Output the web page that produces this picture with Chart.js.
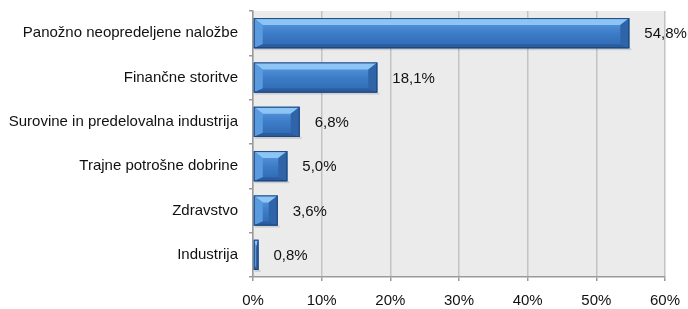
<!DOCTYPE html>
<html lang="sl">
<head>
<meta charset="UTF-8">
<title>Naložbe po panogah</title>
<script src="https://cdn.jsdelivr.net/npm/chart.js"></script>
<style>
  html, body { margin: 0; padding: 0; background: #fff; overflow: hidden; }
  #wrap { width: 688px; height: 309px; }
</style>
</head>
<body>
<div id="wrap"><canvas id="sectorChart"></canvas></div>
<script>
  // podatki
  const categories = [
    "Panožno neopredeljene naložbe",
    "Finančne storitve",
    "Surovine in predelovalna industrija",
    "Trajne potrošne dobrine",
    "Zdravstvo",
    "Industrija"
  ];
  const shares = [54.8, 18.1, 6.8, 5.0, 3.6, 0.8];
  const xTicks = [0, 10, 20, 30, 40, 50, 60];

  const fmt = v => v.toFixed(1).replace(".", ",") + "%";
  const FONT = "'Liberation Sans', Arial, sans-serif";

  // sivo ozadje risalne površine
  const plotBg = {
    id: "plotBg",
    beforeDraw(chart) {
      const a = chart.chartArea;
      const ctx = chart.ctx;
      ctx.save();
      ctx.fillStyle = "#ebebeb";
      ctx.fillRect(a.left, a.top, a.right - a.left, a.bottom - a.top);
      ctx.restore();
    }
  };

  // 3D videz stolpcev + oznake vrednosti
  const bevel = {
    id: "bevel",
    afterDatasetsDraw(chart) {
      const ctx = chart.ctx;
      const meta = chart.getDatasetMeta(0);
      ctx.save();
      meta.data.forEach((bar, i) => {
        const x0 = bar.base, x1 = bar.x;
        const y0 = bar.y - bar.height / 2, y1 = bar.y + bar.height / 2;
        const b = Math.min(9, (x1 - x0) / 2);
        const bt = 7, bb = 4;

        // senca
        ctx.fillStyle = "rgba(0,0,0,0.12)";
        ctx.fillRect(x0 + 1, y1, x1 - x0 + 1, 2);

        // ploskev
        const g = ctx.createLinearGradient(0, y0, 0, y1);
        g.addColorStop(0, "#5f9fe2");
        g.addColorStop(0.5, "#3d7cc7");
        g.addColorStop(1, "#2f69b2");
        ctx.fillStyle = g;
        ctx.fillRect(x0, y0, x1 - x0, y1 - y0);

        // zgornji svetel rob
        ctx.fillStyle = "#8cc5f5";
        ctx.beginPath();
        ctx.moveTo(x0, y0); ctx.lineTo(x1, y0); ctx.lineTo(x1 - b, y0 + bt); ctx.lineTo(x0 + b, y0 + bt);
        ctx.closePath(); ctx.fill();
        // levi rob
        ctx.fillStyle = "#5a9ade";
        ctx.beginPath();
        ctx.moveTo(x0, y0); ctx.lineTo(x0 + b, y0 + bt); ctx.lineTo(x0 + b, y1 - bb); ctx.lineTo(x0, y1);
        ctx.closePath(); ctx.fill();
        // spodnji temen rob
        ctx.fillStyle = "#2a5c9e";
        ctx.beginPath();
        ctx.moveTo(x0, y1); ctx.lineTo(x1, y1); ctx.lineTo(x1 - b, y1 - bb); ctx.lineTo(x0 + b, y1 - bb);
        ctx.closePath(); ctx.fill();
        // desni rob
        ctx.fillStyle = "#2f64a8";
        ctx.beginPath();
        ctx.moveTo(x1, y0); ctx.lineTo(x1, y1); ctx.lineTo(x1 - b, y1 - bb); ctx.lineTo(x1 - b, y0 + bt);
        ctx.closePath(); ctx.fill();
        // obroba
        ctx.strokeStyle = "#1f4477";
        ctx.lineWidth = 1;
        ctx.strokeRect(x0 + 0.5, y0 + 0.5, x1 - x0 - 1, y1 - y0 - 1);

        // oznaka
        ctx.fillStyle = "#111";
        ctx.font = "15px " + FONT;
        ctx.textAlign = "left";
        ctx.textBaseline = "middle";
        ctx.fillText(fmt(shares[i]), x1 + 15, bar.y + 1);
      });
      ctx.restore();
    }
  };

  const ctx = document.getElementById("sectorChart").getContext("2d");
  new Chart(ctx, {
    type: "bar",
    data: {
      labels: categories,
      datasets: [{
        data: shares,
        backgroundColor: "#3b7cc9",
        borderWidth: 0,
        categoryPercentage: 1,
        barPercentage: 0.68
      }]
    },
    options: {
      indexAxis: "y",
      responsive: true,
      maintainAspectRatio: false,
      animation: false,
      layout: { padding: { top: 11, right: 23, left: 0, bottom: 0 } },
      plugins: {
        legend: { display: false },
        tooltip: { enabled: false }
      },
      scales: {
        x: {
          min: 0,
          max: 60,
          afterBuildTicks: s => { s.ticks = xTicks.map(v => ({ value: v })); },
          afterFit: s => { s.height = 32; s.paddingLeft = 0; s.paddingRight = 0; },
          ticks: {
            color: "#111",
            font: { family: FONT, size: 15 },
            padding: 11,
            callback: v => v + "%"
          },
          grid: {
            color: "#c3c3c3",
            lineWidth: 1.5,
            tickLength: 4,
            tickColor: "#9a9a9a"
          },
          border: { color: "#9a9a9a", width: 1.5 }
        },
        y: {
          afterFit: s => { s.width = 253; s.paddingTop = 0; s.paddingBottom = 0; },
          ticks: {
            color: "#111",
            font: { family: FONT, size: 15 },
            padding: 11
          },
          grid: {
            drawOnChartArea: false,
            tickLength: 4,
            tickColor: "#9a9a9a",
            lineWidth: 1.5
          },
          border: { color: "#9a9a9a", width: 1.5 }
        }
      }
    },
    plugins: [plotBg, bevel]
  });
</script>
</body>
</html>
